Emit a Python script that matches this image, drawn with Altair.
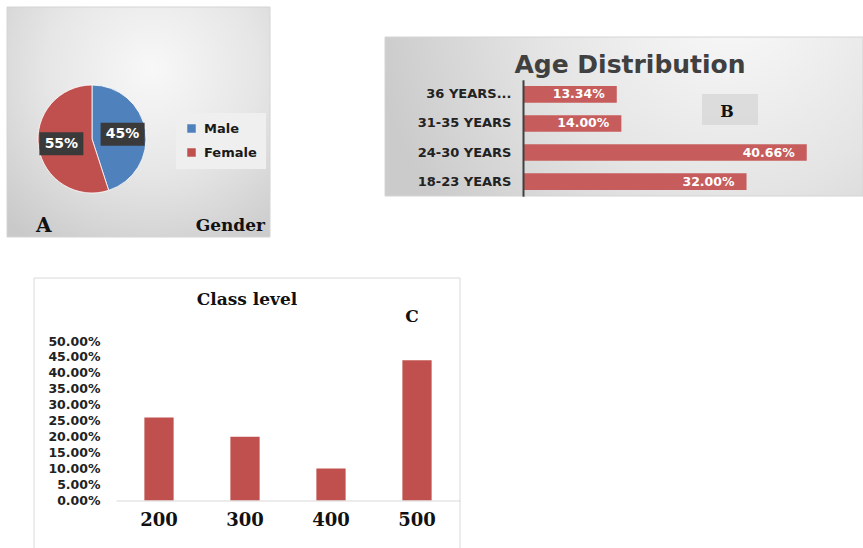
import altair as alt
import pandas as pd

W, H = 863, 548

# ---------------- data ----------------
# Panel A: gender
gender = ["Male", "Female"]
gender_share = [45, 55]
gender_colors = ["#4f81bd", "#c0504d"]

# Panel B: age distribution (%)
age_groups = ["36 YEARS...", "31-35 YEARS", "24-30 YEARS", "18-23 YEARS"]
age_share = [13.34, 14.00, 40.66, 32.00]

# Panel C: class level (fraction)
class_levels = ["200", "300", "400", "500"]
class_share = [0.26, 0.20, 0.10, 0.44]
class_ticks = [0.0, 0.05, 0.10, 0.15, 0.20, 0.25, 0.30, 0.35, 0.40, 0.45, 0.50]

pie_df = pd.DataFrame({"gender": gender, "share": gender_share, "idx": list(range(len(gender)))})
age_df = pd.DataFrame({"group": age_groups, "share": age_share})
class_df = pd.DataFrame({"level": class_levels, "share": class_share})
one = alt.Data(values=[{"k": 1}])

SANS = "DejaVu Sans"
SERIF = "DejaVu Serif"


def panel_rect(x0, x1, y0, y1, **kw):
    return alt.Chart(one).mark_rect(**kw).encode(
        x=alt.value(x0), x2=alt.value(x1), y=alt.value(y0), y2=alt.value(y1))


def label(text, x, y, **kw):
    return alt.Chart(one).mark_text(text=text, **kw).encode(x=alt.value(x), y=alt.value(y))


grad_a = alt.RadialGradient(
    gradient="radial", x1=0.55, y1=0.3, r1=0.0, x2=0.55, y2=0.3, r2=0.8,
    stops=[alt.GradientStop(color="#f8f8f8", offset=0),
           alt.GradientStop(color="#e6e6e6", offset=0.5),
           alt.GradientStop(color="#c9c9c9", offset=1)])
grad_b = alt.RadialGradient(
    gradient="radial", x1=0.72, y1=0.25, r1=0.0, x2=0.72, y2=0.25, r2=0.75,
    stops=[alt.GradientStop(color="#fafafa", offset=0),
           alt.GradientStop(color="#e4e4e4", offset=0.55),
           alt.GradientStop(color="#cbcbcb", offset=1)])

# ---------------- Panel A ----------------
CX, CY, R = 92, 139, 54
bg_a = panel_rect(7, 270, 7, 237, fill=grad_a, stroke="#d4d4d4", strokeWidth=1)

pie = alt.Chart(pie_df).mark_arc(radius=R, stroke="#ffffff", strokeWidth=0.8).encode(
    theta=alt.Theta("share:Q", stack=True),
    order=alt.Order("idx:Q"),
    color=alt.Color("gender:N", sort=gender,
                    scale=alt.Scale(domain=gender, range=gender_colors),
                    legend=alt.Legend(orient="none", legendX=176, legendY=113, title=None,
                                      fillColor="#efefef", padding=9, symbolType="square",
                                      symbolSize=72, symbolStrokeWidth=0, rowPadding=10,
                                      labelFont=SANS, labelFontWeight="bold", labelFontSize=13,
                                      labelColor="#1a1a1a", labelOffset=6)),
    x=alt.value(CX), y=alt.value(CY))

pie_pos = (alt.Chart(pie_df)
           .transform_window(cum="sum(share)", sort=[alt.SortField("idx")])
           .transform_joinaggregate(total="sum(share)")
           .transform_calculate(mid="(datum.cum - datum.share/2) / datum.total * 2 * PI")
           .transform_calculate(px=f"{CX} + 31 * sin(datum.mid)",
                                py=f"{CY} - 31 * cos(datum.mid)")
           .transform_calculate(x0="datum.px - 22", x1="datum.px + 22",
                                y0="datum.py - 11.5", y1="datum.py + 11.5",
                                lab="datum.share + '%'"))
pie_box = pie_pos.mark_rect(fill="#3a3a3a").encode(
    x=alt.X("x0:Q", scale=None, axis=None), x2="x1:Q",
    y=alt.Y("y0:Q", scale=None, axis=None), y2="y1:Q")
pie_txt = pie_pos.mark_text(color="white", font=SANS, fontWeight="bold", fontSize=14,
                            baseline="middle").encode(
    x=alt.X("px:Q", scale=None, axis=None), y=alt.Y("py:Q", scale=None, axis=None),
    text="lab:N")

lab_a = label("A", 36, 232, font=SERIF, fontWeight="bold", fontSize=20, align="left",
              baseline="alphabetic", color="#111111")
lab_gender = label("Gender", 265, 231, font=SERIF, fontWeight="bold", fontSize=17,
                   align="right", baseline="alphabetic", color="#111111")

panel_a = alt.layer(bg_a, pie, pie_box, pie_txt, lab_a, lab_gender)

# ---------------- Panel B ----------------
bg_b = panel_rect(385, 863, 37, 196, fill=grad_b, stroke="#d4d4d4", strokeWidth=1)
b_box = panel_rect(702, 758, 94, 125, fill="#d9d9d9", opacity=0.9)
b_letter = label("B", 727, 112, font=SERIF, fontWeight="bold", fontSize=16, align="center",
                 baseline="middle", color="#111111")
b_title = label("Age Distribution", 630, 73, font=SANS, fontWeight="bold", fontSize=25,
                align="center", baseline="alphabetic", color="#404040")

x_b = alt.X("share:Q", scale=alt.Scale(domain=[0, 50], range=[524, 871.7]), axis=None)
y_b = alt.Y("group:N", sort=age_groups,
            scale=alt.Scale(domain=age_groups, range=[79.8, 196.2],
                            paddingInner=0.43, paddingOuter=0.215),
            axis=alt.Axis(orient="left", offset=-523, title=None, ticks=False, tickSize=0,
                          domainColor="#404040", domainWidth=2, labelFont=SANS,
                          labelFontWeight="bold", labelFontSize=13, labelColor="#222222",
                          labelPadding=12, labelLimit=200, zindex=1))
age_bars = alt.Chart(age_df).mark_bar(color="#c65c5b").encode(x=x_b, y=y_b)
age_txt = (alt.Chart(age_df)
           .transform_calculate(lab="format(datum.share, '.2f') + '%'")
           .mark_text(align="right", dx=-12, baseline="middle", color="white", font=SANS,
                      fontWeight="bold", fontSize=12.5)
           .encode(x=x_b, y=y_b, text="lab:N"))

panel_b = alt.layer(bg_b, age_bars, age_txt, b_box, b_letter, b_title)

# ---------------- Panel C ----------------
bg_c = panel_rect(34, 460, 278, 560, fill="#ffffff", stroke="#d9d9d9", strokeWidth=1)
c_title = label("Class level", 247, 300, font=SERIF, fontWeight="bold", fontSize=17,
                align="center", baseline="middle", color="#111111")
c_letter = label("C", 412, 317, font=SERIF, fontWeight="bold", fontSize=17,
                 align="center", baseline="middle", color="#111111")

class_bars = alt.Chart(class_df).mark_bar(color="#c0504d").encode(
    x=alt.X("level:N", sort=class_levels,
            scale=alt.Scale(domain=class_levels, range=[116, 460],
                            paddingInner=0.66, paddingOuter=0.33),
            axis=alt.Axis(orient="bottom", offset=-47.5, title=None, ticks=False, tickSize=0,
                          domainColor="#d9d9d9", domainWidth=1, labelFont=SERIF,
                          labelFontWeight="bold", labelFontSize=18, labelColor="#111111",
                          labelPadding=11, labelAngle=0, zindex=1)),
    y=alt.Y("share:Q",
            scale=alt.Scale(domain=[0, 0.5], range=[500.5, 341]),
            axis=alt.Axis(orient="left", offset=-116, title=None, values=class_ticks,
                          format=".2%", domain=False, ticks=False, tickSize=0, grid=False,
                          labelFont=SANS, labelFontWeight="bold", labelFontSize=12.5,
                          labelColor="#222222", labelPadding=16, labelOverlap=False,
                          zindex=1)))

panel_c = alt.layer(bg_c, class_bars, c_title, c_letter)

chart = (alt.layer(panel_a, panel_b, panel_c)
         .resolve_scale(x="independent", y="independent", color="independent")
         .properties(width=W, height=H, autosize=alt.AutoSizeParams(type="none"),
                     padding=0, background="white")
         .configure_view(stroke=None))

chart.save("out.html", embed_options={"renderer": "svg", "actions": False})
